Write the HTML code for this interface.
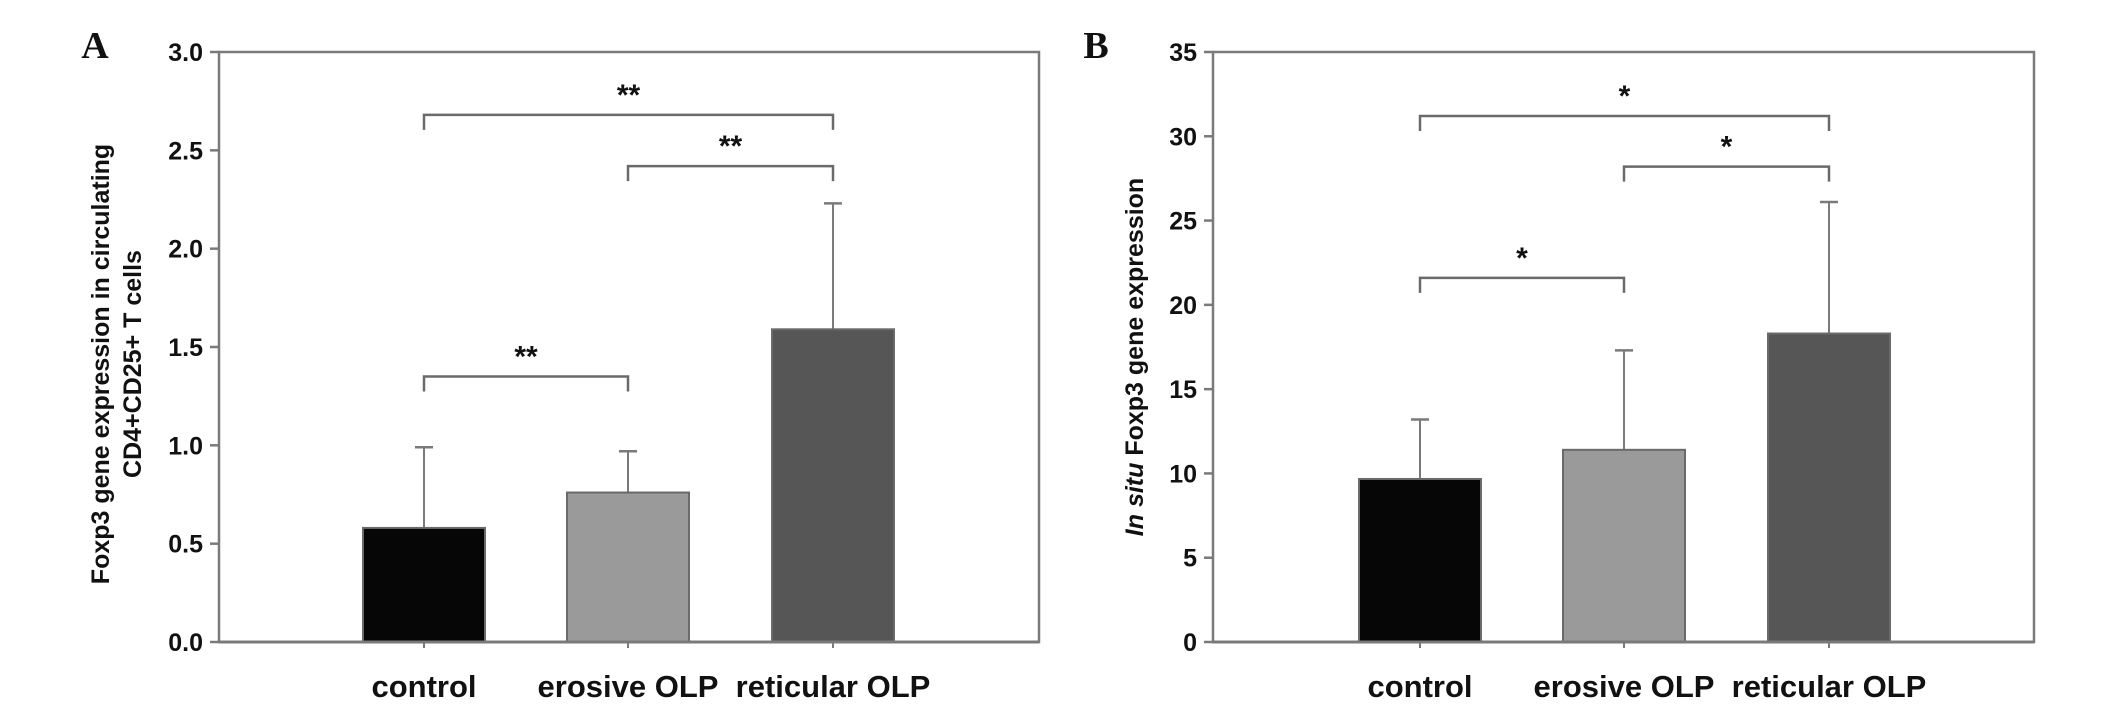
<!DOCTYPE html>
<html><head><meta charset="utf-8"><style>
html,body{margin:0;padding:0;background:#fff;}
svg{display:block;}
text{font-family:"Liberation Sans",Arial,sans-serif;font-weight:bold;fill:#111;}
</style></head><body>
<svg id="chart" width="2126" height="713" viewBox="0 0 2126 713" xmlns="http://www.w3.org/2000/svg">
<text x="95" y="58" font-family="Liberation Serif" font-size="38" text-anchor="middle" style="font-family:'Liberation Serif',serif">A</text>
<text x="1096" y="58" font-size="38" text-anchor="middle" style="font-family:'Liberation Serif',serif">B</text>
<text transform="translate(109,364) rotate(-90)" font-size="25" text-anchor="middle">Foxp3 gene expression in circulating</text>
<text transform="translate(141,364) rotate(-90)" font-size="25" text-anchor="middle">CD4+CD25+ T cells</text>
<text transform="translate(1143,357) rotate(-90)" font-size="25" text-anchor="middle"><tspan font-style="italic">In situ</tspan> Foxp3 gene expression</text>
<g id="pa"></g><g id="pb"></g>
</svg>
<script>
const categories = ["control", "erosive OLP", "reticular OLP"];
const aValues = [0.58, 0.76, 1.59];
const aErrors = [0.99, 0.97, 2.23];
const aTicks = ["0.0","0.5","1.0","1.5","2.0","2.5","3.0"];
const aTickVals = [0,0.5,1,1.5,2,2.5,3];
const aBrackets = [[0,2,2.68,"**"],[1,2,2.42,"**"],[0,1,1.35,"**"]];
const bValues = [9.67, 11.4, 18.3];
const bErrors = [13.2, 17.3, 26.1];
const bTicks = ["0","5","10","15","20","25","30","35"];
const bTickVals = [0,5,10,15,20,25,30,35];
const bBrackets = [[0,2,31.2,"*"],[1,2,28.2,"*"],[0,1,21.6,"*"]];
const colors = ["#060606","#9a9a9a","#565656"];
const NS = "http://www.w3.org/2000/svg";
function mk(parent, tag, attrs){const e=document.createElementNS(NS,tag);for(const k in attrs)e.setAttribute(k,attrs[k]);parent.appendChild(e);return e;}
function panel(gid, x0, x1, yMax, vals, errs, ticks, tickVals, brackets, centers, labelX){
  const g=document.getElementById(gid);
  const top=52, bot=642;
  const y=v=>bot-(v/yMax)*(bot-top);
  const cx=i=>centers[i];
  const frame=mk(g,'rect',{x:x0,y:top,width:x1-x0,height:bot-top,fill:'none',stroke:'#7a7a7a','stroke-width':2.5});
  
  
  tickVals.forEach((v,i)=>{
    const t=mk(g,'line',{x1:x0-9,x2:x0,y1:y(v),y2:y(v),stroke:'#7a7a7a','stroke-width':2.5});
    
    
    const l=mk(g,'text',{x:labelX,y:y(v)+9,'font-size':25,'text-anchor':'end'});
    l.textContent=ticks[i];
    
    
  });
  vals.forEach((v,i)=>{
    const e=mk(g,'line',{x1:cx(i),x2:cx(i),y1:y(v),y2:y(errs[i]),stroke:'#7a7a7a','stroke-width':2});
    
    
    const c=mk(g,'line',{x1:cx(i)-9,x2:cx(i)+9,y1:y(errs[i]),y2:y(errs[i]),stroke:'#7a7a7a','stroke-width':2.5});
    
    
    const b=mk(g,'rect',{x:cx(i)-61,y:y(v),width:122,height:bot-y(v),fill:colors[i],stroke:'#6a6a6a','stroke-width':2});
    
    
    const xt=mk(g,'line',{x1:cx(i),x2:cx(i),y1:bot,y2:bot+6,stroke:'#7a7a7a','stroke-width':2});
    
    
    const xl=mk(g,'text',{x:cx(i),y:697,'font-size':31,'text-anchor':'middle'});
    xl.textContent=categories[i];
    
    
  });
  brackets.forEach(br=>{
    const a=cx(br[0]), b=cx(br[1]), yy=y(br[2]);
    const p=mk(g,'path',{d:`M${a},${yy+15} V${yy} H${b} V${yy+15}`,fill:'none',stroke:'#6a6a6a','stroke-width':2.5});
    
    
    const s=mk(g,'text',{x:(a+b)/2,y:yy-10,'font-size':30,'text-anchor':'middle'});
    s.textContent=br[3];
    
    
  });
  const ax=mk(g,'line',{x1:x0,x2:x1,y1:bot,y2:bot,stroke:'#7a7a7a','stroke-width':3});
  
  
}
panel('pa',219,1039,3,aValues,aErrors,aTicks,aTickVals,aBrackets,[424,628,833],203);
panel('pb',1213,2034,35,bValues,bErrors,bTicks,bTickVals,bBrackets,[1420,1624,1829],1197);
</script>
</body></html>
